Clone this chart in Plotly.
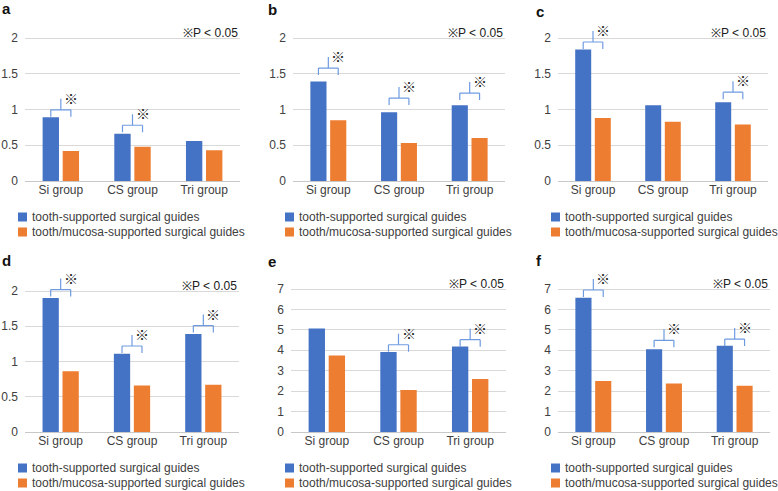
import plotly.graph_objects as go

# ---------------- data ----------------
categories = ["Si group", "CS group", "Tri group"]
series_names = ["tooth-supported surgical guides", "tooth/mucosa-supported surgical guides"]
panel_names = ["a", "b", "c", "d", "e", "f"]

a_tooth = [0.89, 0.66, 0.56]
a_mucosa = [0.42, 0.48, 0.43]
b_tooth = [1.39, 0.96, 1.06]
b_mucosa = [0.85, 0.53, 0.60]
c_tooth = [1.84, 1.06, 1.10]
c_mucosa = [0.88, 0.83, 0.79]
d_tooth = [1.90, 1.11, 1.39]
d_mucosa = [0.86, 0.66, 0.67]
e_tooth = [5.07, 3.92, 4.19]
e_mucosa = [3.74, 2.06, 2.59]
f_tooth = [6.57, 4.05, 4.22]
f_mucosa = [2.50, 2.37, 2.27]

axis_max = [2, 2, 2, 2, 7, 7]
axis_step = [0.5, 0.5, 0.5, 0.5, 1, 1]

# significance brackets: (category index, bracket height in data units)
a_sig = [(0, 0.995), (1, 0.78)]
b_sig = [(0, 1.58), (1, 1.16), (2, 1.23)]
c_sig = [(0, 1.944), (2, 1.243)]
d_sig = [(0, 2.02), (1, 1.22), (2, 1.51)]
e_sig = [(1, 4.27), (2, 4.52)]
f_sig = [(0, 6.95), (1, 4.49), (2, 4.55)]

sig_note = "※P < 0.05"
sig_mark = "※"

tooth_all = [a_tooth, b_tooth, c_tooth, d_tooth, e_tooth, f_tooth]
mucosa_all = [a_mucosa, b_mucosa, c_mucosa, d_mucosa, e_mucosa, f_mucosa]
sig_all = [a_sig, b_sig, c_sig, d_sig, e_sig, f_sig]

# ---------------- layout / style ----------------
W, H = 778, 491
FONT = "Arial, Liberation Sans, sans-serif"
MARKFONT = "Noto Sans CJK JP, Arial, sans-serif"
BLUE = "#4472C4"
ORANGE = "#ED7D31"
BRACKET = "#6E9BE0"
TXT = "#404040"
GRID = "#D9D9D9"
BARGAP = 0.44
GROUPGAP = 0.185
HEADROOM = 1.15
colors = [BLUE, ORANGE]

# plot area in pixels: (left, right, top gridline y, zero y)
plot_px = [
    (25, 240, 38, 181), (293, 505, 38, 181), (558, 768, 38, 181),
    (25, 239, 291, 432), (291, 506, 289, 432), (558, 770, 289, 432),
]
# legend text start x, first row centre y
legend_px = [(32, 217), (299, 217), (565, 217), (32, 468), (299, 468), (565, 468)]
LEG_ROW = 15
label_px = [(0, 9), (266, 10), (534, 11), (0, 260), (266, 261), (534, 260)]

fig = go.Figure()
shapes = []
annotations = []
half = (1 - BARGAP) / 4  # offset of bar centres from category centre

for i in range(6):
    n = i + 1
    sfx = "" if n == 1 else str(n)
    xa, ya = "x" + sfx, "y" + sfx
    x0, x1, yt, yb = plot_px[i]
    ymax = axis_max[i]
    ppu = (yb - yt) / ymax
    top_px = yb - HEADROOM * ymax * ppu

    for j, vals in enumerate([tooth_all[i], mucosa_all[i]]):
        fig.add_trace(go.Bar(x=categories, y=vals, name=series_names[j],
                             marker=dict(color=colors[j], line=dict(width=0)),
                             xaxis=xa, yaxis=ya, showlegend=False))

    ticks = []
    v = 0.0
    while v <= ymax + 1e-9:
        ticks.append(round(v, 3))
        v += axis_step[i]

    fig.layout["xaxis" + sfx] = dict(
        domain=[x0 / W, x1 / W], anchor=ya, type="category",
        showgrid=False, showline=False, zeroline=False, ticks="",
        tickfont=dict(family=FONT, size=12, color=TXT), fixedrange=True,
    )
    fig.layout["yaxis" + sfx] = dict(
        domain=[1 - yb / H, 1 - top_px / H], anchor=xa,
        range=[0, HEADROOM * ymax], tickvals=ticks,
        showgrid=True, gridcolor=GRID, gridwidth=1,
        zeroline=True, zerolinecolor="#C8C8C8", zerolinewidth=1,
        showline=False, ticks="", ticklabelstandoff=6,
        tickfont=dict(family=FONT, size=12, color=TXT), fixedrange=True,
    )

    # legend (drawn as keys + labels under each panel)
    tx, ry = legend_px[i]
    for j in range(2):
        cy = ry + j * LEG_ROW
        shapes.append(dict(type="rect", xref="paper", yref="paper",
                           x0=(tx - 14) / W, x1=(tx - 5) / W,
                           y0=1 - (cy + 4.5) / H, y1=1 - (cy - 4.5) / H,
                           fillcolor=colors[j], line=dict(width=0)))
        annotations.append(dict(
            text=series_names[j], xref="paper", yref="paper",
            x=(tx - 2) / W, y=1 - cy / H, xanchor="left", yanchor="middle",
            showarrow=False, font=dict(family=FONT, size=12, color=TXT),
        ))

    # significance note
    annotations.append(dict(
        text=sig_note, xref=xa + " domain", yref=ya, x=1.0, y=ymax,
        xanchor="right", yanchor="bottom", yshift=-4, showarrow=False,
        font=dict(family=FONT, size=12, color="#202020"),
    ))

    # panel label
    lx, ly = label_px[i]
    annotations.append(dict(
        text="<b>" + panel_names[i] + "</b>", xref="paper", yref="paper",
        x=lx / W, y=1 - ly / H, xanchor="left", yanchor="middle", showarrow=False,
        font=dict(family=FONT, size=15, color="#111111"),
    ))

    # brackets
    leg_len = 7 / ppu
    stem_len = 11 / ppu
    for cat, yh in sig_all[i]:
        xl, xr = cat - half, cat + half
        line = dict(color=BRACKET, width=1.2)
        shapes.append(dict(type="line", xref=xa, yref=ya, x0=xl, x1=xr, y0=yh, y1=yh, line=line))
        shapes.append(dict(type="line", xref=xa, yref=ya, x0=xl, x1=xl, y0=yh, y1=yh - leg_len, line=line))
        shapes.append(dict(type="line", xref=xa, yref=ya, x0=xr, x1=xr, y0=yh, y1=yh - leg_len, line=line))
        shapes.append(dict(type="line", xref=xa, yref=ya, x0=cat, x1=cat, y0=yh, y1=yh + stem_len, line=line))
        annotations.append(dict(
            text=sig_mark, xref=xa, yref=ya, x=xr, y=yh + stem_len,
            xanchor="center", yanchor="middle", yshift=1, showarrow=False,
            font=dict(family=MARKFONT, size=14, color="#222222"),
        ))

fig.update_layout(
    width=W, height=H, margin=dict(l=0, r=0, t=0, b=0, autoexpand=False),
    paper_bgcolor="white", plot_bgcolor="white",
    barmode="group", bargap=BARGAP, bargroupgap=GROUPGAP,
    shapes=shapes, annotations=annotations,
    font=dict(family=FONT, size=12, color=TXT), showlegend=False,
)

fig.write_html("out.html", config={"displayModeBar": False, "staticPlot": True},
               post_script="document.body.style.margin='0';")
